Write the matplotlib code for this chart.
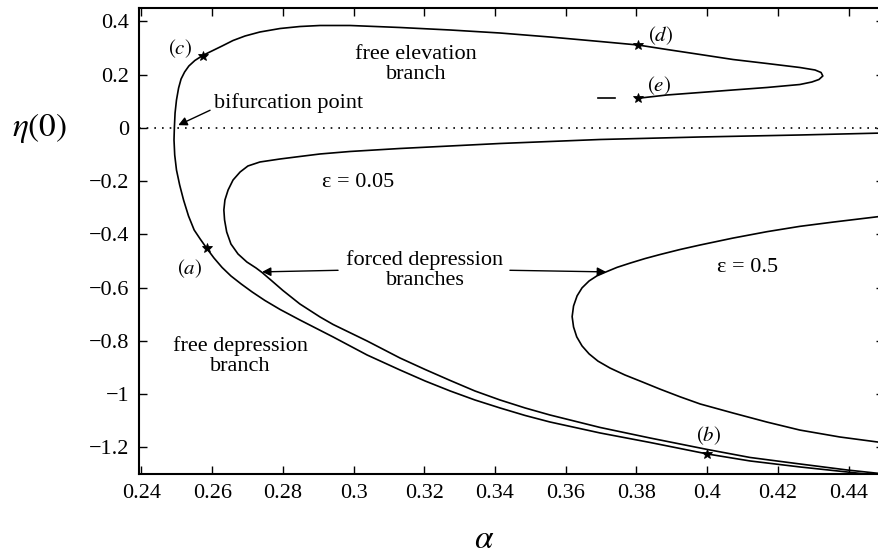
import numpy as np
import matplotlib
matplotlib.use("Agg")
import matplotlib.pyplot as plt
from matplotlib.ticker import FuncFormatter

plt.rcParams['font.family'] = ['Liberation Serif', 'DejaVu Serif']
plt.rcParams['mathtext.fontset'] = 'stix'

# free branch: from (e) round the elevation tip, over the top, down past
# the bifurcation point and along the depression branch
free_alpha = [0.3804, 0.3886, 0.3980, 0.4073, 0.4169, 0.4262, 0.4296, 0.4316,
              0.4327, 0.4322, 0.4305, 0.4262, 0.4169, 0.4073, 0.3980, 0.3886,
              0.3804, 0.3697, 0.3555, 0.3414, 0.3273, 0.3131, 0.2990, 0.2905,
              0.2848, 0.2792, 0.2735, 0.2693, 0.2659, 0.2628, 0.2599, 0.2573,
              0.2551, 0.2534, 0.2522, 0.2512, 0.2505, 0.2499, 0.2495, 0.2493,
              0.2492, 0.2494, 0.2499, 0.2508, 0.2519, 0.2533, 0.2549, 0.2566,
              0.2585, 0.2605, 0.2628, 0.2653, 0.2682, 0.2713, 0.2749, 0.2792,
              0.2848, 0.2942, 0.3038, 0.3131, 0.3202, 0.3273, 0.3343, 0.3414,
              0.3485, 0.3555, 0.3697, 0.3838, 0.4000, 0.4121, 0.4262, 0.4395,
              0.4500]
free_eta = [0.1109, 0.1233, 0.1327, 0.1421, 0.1515, 0.1627, 0.1721, 0.1815,
            0.1947, 0.2078, 0.2172, 0.2266, 0.2416, 0.2566, 0.2754, 0.2942,
            0.3111, 0.3242, 0.3411, 0.3561, 0.3674, 0.3768, 0.3843, 0.3843,
            0.3805, 0.3730, 0.3599, 0.3449, 0.3280, 0.3073, 0.2885, 0.2716,
            0.2529, 0.2322, 0.2097, 0.1834, 0.1496, 0.1045, 0.0557, 0.0000,
            -0.0457, -0.1020, -0.1583, -0.2146, -0.2710, -0.3310, -0.3836, -0.4174,
            -0.4531, -0.4888, -0.5244, -0.5563, -0.5864, -0.6164, -0.6483, -0.6821,
            -0.7216, -0.7854, -0.8530, -0.9093, -0.9506, -0.9882, -1.0220, -1.0520,
            -1.0802, -1.1046, -1.1459, -1.1815, -1.2247, -1.2510, -1.2735, -1.2923,
            -1.3073]

# forced depression branch, eps = 0.05
f005_alpha = [0.4500, 0.4262, 0.3980, 0.3697, 0.3414, 0.3131, 0.2990, 0.2905,
              0.2848, 0.2792, 0.2735, 0.2701, 0.2679, 0.2659, 0.2645, 0.2636,
              0.2633, 0.2635, 0.2641, 0.2653, 0.2673, 0.2698, 0.2724, 0.2741,
              0.2769, 0.2800, 0.2848, 0.2905, 0.2942, 0.3038, 0.3131, 0.3202,
              0.3273, 0.3343, 0.3414, 0.3485, 0.3555, 0.3697, 0.3838, 0.4000,
              0.4121, 0.4262, 0.4395, 0.4500]
f005_eta = [-0.0194, -0.0269, -0.0344, -0.0438, -0.0588, -0.0776, -0.0888, -0.0982,
            -0.1076, -0.1170, -0.1283, -0.1433, -0.1658, -0.1959, -0.2334, -0.2710,
            -0.3085, -0.3461, -0.3911, -0.4362, -0.4737, -0.5038, -0.5263, -0.5432,
            -0.5751, -0.6108, -0.6615, -0.7103, -0.7385, -0.8004, -0.8643, -0.9074,
            -0.9487, -0.9882, -1.0220, -1.0520, -1.0783, -1.1252, -1.1647, -1.2078,
            -1.2379, -1.2623, -1.2848, -1.2998]

# forced depression branch, eps = 0.5
f05_alpha = [0.4500, 0.4356, 0.4262, 0.4169, 0.4073, 0.3980, 0.3923, 0.3866,
             0.3824, 0.3782, 0.3745, 0.3714, 0.3688, 0.3666, 0.3646, 0.3632,
             0.3622, 0.3618, 0.3622, 0.3631, 0.3646, 0.3666, 0.3691, 0.3725,
             0.3767, 0.3816, 0.3866, 0.3923, 0.3980, 0.4073, 0.4169, 0.4262,
             0.4375, 0.4500]
f05_eta = [-0.331, -0.354, -0.370, -0.390, -0.414, -0.440, -0.457, -0.476,
           -0.491, -0.508, -0.524, -0.541, -0.556, -0.575, -0.601, -0.631,
           -0.669, -0.709, -0.748, -0.785, -0.819, -0.849, -0.876, -0.902,
           -0.928, -0.954, -0.981, -1.010, -1.037, -1.071, -1.105, -1.135,
           -1.161, -1.183]

# marked solutions (a)-(e)
star_names = ['(a)', '(b)', '(c)', '(d)', '(e)']
star_alpha = [0.2585, 0.4000, 0.2573, 0.3804, 0.3804]
star_eta = [-0.4531, -1.2247, 0.2716, 0.3111, 0.1109]
star_label_pos = [(0.2537, -0.528), (0.4003, -1.155), (0.2509, 0.298),
                  (0.3867, 0.348), (0.3864, 0.160)]

fig = plt.figure(figsize=(8.79, 5.59), dpi=100)
ax = fig.add_axes([139 / 879, 1 - 474 / 559, 745 / 879, 466 / 559])

lw = 1.2
ax.plot(free_alpha, free_eta, color='black', lw=lw)
ax.plot(f005_alpha, f005_eta, color='black', lw=lw)
ax.plot(f05_alpha, f05_eta, color='black', lw=lw)
ax.plot([0.3692, 0.3740], [0.1109, 0.1109], color='black', lw=lw)
ax.axhline(0, color='black', lw=1.2, linestyle=(0, (1, 3.6)))
ax.plot(star_alpha, star_eta, linestyle='none', marker='*', ms=7,
        color='black', mew=0.6)

tfs = 16
for name, (xa, ya) in zip(star_names, star_label_pos):
    ax.text(xa, ya, '$' + name + '$', fontsize=15, ha='center', va='center')

ax.text(0.3177, 0.239, 'free elevation\nbranch', fontsize=tfs,
        ha='center', va='center', linespacing=1.05)
ax.text(0.2679, -0.858, 'free depression\nbranch', fontsize=tfs,
        ha='center', va='center', linespacing=1.05)
ax.text(0.3202, -0.535, 'forced depression\nbranches', fontsize=tfs,
        ha='center', va='center', linespacing=1.05)
ax.text(0.3012, -0.205, 'ε = 0.05', fontsize=tfs, ha='center', va='center')
ax.text(0.4113, -0.524, 'ε = 0.5', fontsize=tfs, ha='center', va='center')
ax.text(0.2604, 0.093, 'bifurcation point', fontsize=tfs,
        ha='left', va='center')

arrow = dict(arrowstyle='-|>', color='black', lw=1.0, mutation_scale=13,
             shrinkA=0, shrinkB=0)
ax.annotate('', xy=(0.2504, 0.010), xytext=(0.2594, 0.066), arrowprops=arrow)
ax.annotate('', xy=(0.2741, -0.541), xytext=(0.2956, -0.535), arrowprops=arrow)
ax.annotate('', xy=(0.3714, -0.541), xytext=(0.3442, -0.535), arrowprops=arrow)


def tick_fmt(v, pos):
    if abs(v) < 1e-9:
        return '0'
    return f'{round(v, 4):g}'.replace('-', '\u2212')


ax.set_xlim(0.2393, 0.45)
ax.set_ylim(-1.3, 0.45)
ax.set_xticks(np.arange(0.24, 0.4401, 0.02))
ax.set_yticks(np.arange(-1.2, 0.401, 0.2))
ax.xaxis.set_major_formatter(FuncFormatter(tick_fmt))
ax.yaxis.set_major_formatter(FuncFormatter(tick_fmt))
ax.tick_params(direction='in', top=True, right=True, length=6, width=1,
               labelsize=16, pad=7)
for s in ax.spines.values():
    s.set_linewidth(1.5)

fig.text(40 / 879, 1 - 128 / 559, r'$\eta(0)$', fontsize=24,
         ha='center', va='center')
fig.text(484 / 879, 1 - 540 / 559, r'$\alpha$', fontsize=24,
         ha='center', va='center')

fig.savefig('out.png', dpi=100)
